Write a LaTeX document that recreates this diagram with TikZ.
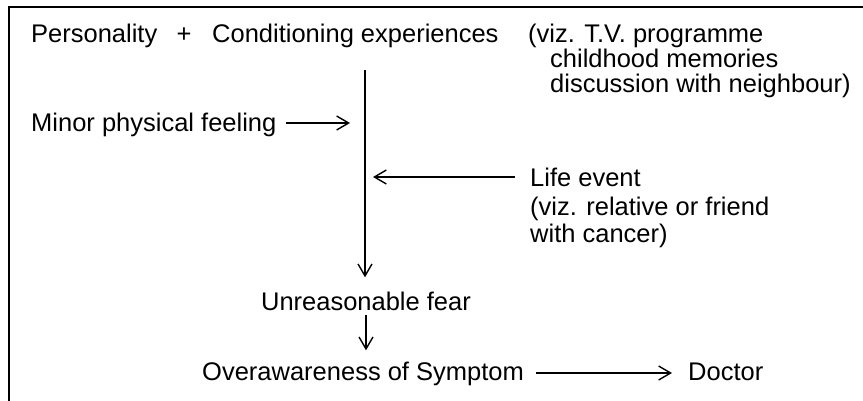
\documentclass[tikz,border=0pt]{standalone}
\usepackage{fontspec}
\setmainfont{Liberation Sans}
\usetikzlibrary{arrows.meta}
\usetikzlibrary{positioning}

\begin{document}
\begin{tikzpicture}[x=1pt,y=-1pt,
  lbl/.style={anchor=base west,inner sep=0pt,font=\fontsize{25.5}{26}\selectfont},
  arr/.style={-{Straight Barb[length=12pt,width=14pt,line width=1.4pt]},line width=1.5pt}]
\useasboundingbox (0,0) rectangle (863,401);
% frame (top and left only)
\draw[line width=1.5pt] (9,401)--(9,7)--(863,7);
% texts
\node[lbl] (pers) at (31,43) {Personality};
\node[lbl,anchor=base] (plus) at (184,43) {+};
\node[lbl] (cond) at (212,43) {Conditioning experiences};
\node[lbl] (viz) at (528,43) {(viz. T.V. programme};
\node[lbl] (child) at (550,68) {childhood memories};
\node[lbl] (disc) at (550,93) {discussion with neighbour)};
\node[lbl] (minor) at (31,132) {Minor physical feeling};
\node[lbl] (life) at (530,187) {Life event};
\node[lbl] (rel) at (530,215) {(viz. relative or friend};
\node[lbl] (canc) at (530,243) {with cancer)};
\node[lbl,anchor=base] (fear) at (366,310) {Unreasonable fear};
\node[lbl] (over) at (202,380) {Overawareness of Symptom};
\node[lbl] (doc) at (688,380) {Doctor};
% arrows
\coordinate (top) at (365,70);
\coordinate (feel) at (350,123);
\coordinate (ev) at (373,177);
\draw[arr] (top) -- ([yshift=14pt]fear.north -| top);
\draw[arr] ([xshift=9pt,yshift=9pt]minor.base east) -- (feel);
\draw[arr] ([xshift=-15pt,yshift=10pt]life.base west) -- (ev);
\draw[arr] ([yshift=-5pt]fear.base) -- ([yshift=11pt]over.north -| fear.base);
\draw[arr] ([xshift=12pt,yshift=7pt]over.base east) -- ([xshift=-16pt,yshift=7pt]doc.base west);
\end{tikzpicture}
\end{document}
